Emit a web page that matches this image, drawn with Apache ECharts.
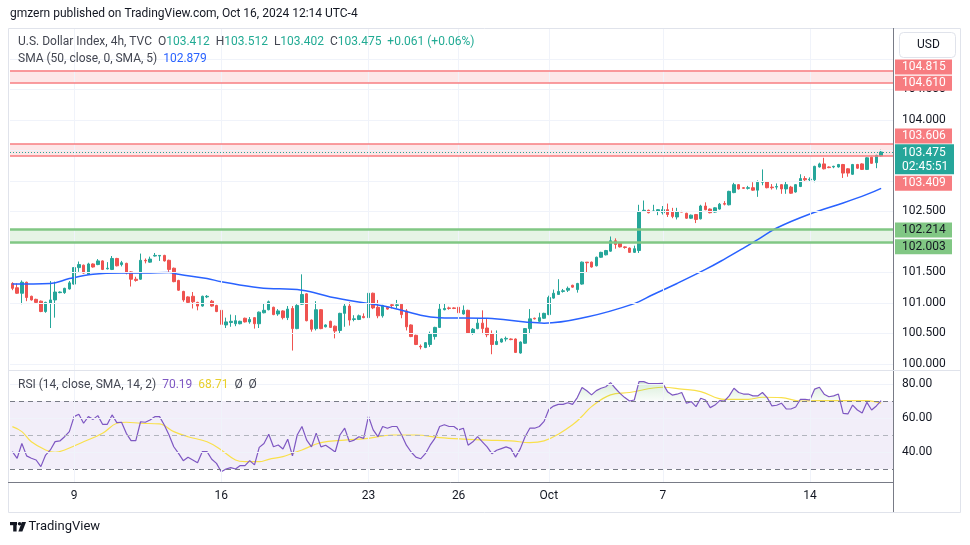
<!DOCTYPE html>
<html><head><meta charset="utf-8">
<script src="https://cdn.jsdelivr.net/npm/echarts@6/dist/echarts.min.js"></script>
<style>html,body{margin:0;padding:0;background:#fff}#c{width:970px;height:545px}</style>
</head><body><div id="c"></div>
<script>
// ---------------- DATA ----------------
const openP = [101.32,101.25,101.16,101.34,101.11,101.06,101.03,100.86,101.00,101.05,
101.17,101.17,101.23,101.31,101.58,101.62,101.47,101.64,101.63,101.69,
101.56,101.55,101.73,101.63,101.65,101.51,101.39,101.39,101.70,101.67,
101.77,101.77,101.78,101.70,101.57,101.37,101.19,101.10,101.11,101.01,
100.95,101.10,101.03,100.96,100.88,100.64,100.68,100.66,100.66,100.75,
100.69,100.76,100.66,100.84,100.89,100.93,100.82,100.87,100.76,100.91,
100.58,100.98,101.15,100.72,100.58,100.89,100.61,100.70,100.62,100.55,
100.83,100.95,100.73,100.73,100.78,100.76,101.16,100.93,100.79,100.93,
100.97,100.96,100.98,100.87,100.64,100.47,100.29,100.27,100.32,100.45,
100.60,100.89,100.92,100.92,100.93,100.82,100.88,100.50,100.58,100.67,
100.59,100.50,100.32,100.36,100.41,100.41,100.41,100.18,100.34,100.58,
100.75,100.70,100.75,100.81,101.08,101.14,101.19,101.21,101.29,101.22,
101.31,101.67,101.67,101.61,101.75,101.79,101.85,102.02,101.98,101.92,
101.90,101.83,101.86,102.51,102.52,102.50,102.50,102.48,102.53,102.49,
102.41,102.50,102.47,102.39,102.45,102.38,102.59,102.54,102.49,102.54,
102.63,102.61,102.81,102.94,102.89,102.88,102.89,102.85,102.98,102.99,
102.90,102.90,102.94,102.87,102.90,102.82,102.91,103.04,103.02,103.02,
103.23,103.28,103.23,103.23,103.23,103.27,103.20,103.11,103.27,103.28,
103.19,103.39,103.30,103.412];
const closeP = [101.24,101.16,101.34,101.09,101.05,101.01,100.86,101.01,101.05,101.18,
101.18,101.24,101.33,101.58,101.63,101.49,101.64,101.59,101.69,101.55,
101.57,101.73,101.61,101.66,101.49,101.39,101.37,101.70,101.69,101.72,
101.78,101.78,101.69,101.55,101.35,101.21,101.05,101.01,101.02,100.95,
101.11,101.11,100.95,100.86,100.65,100.69,100.70,100.71,100.70,100.69,
100.73,100.66,100.85,100.88,101.02,100.81,100.87,100.76,100.90,100.58,
100.96,101.14,100.71,100.57,100.89,100.58,100.64,100.60,100.54,100.83,
100.95,100.72,100.74,100.79,100.76,101.16,100.92,100.79,100.96,100.90,
100.96,100.97,100.81,100.61,100.45,100.32,100.28,100.35,100.49,100.60,
100.90,100.91,100.91,100.91,100.84,100.88,100.51,100.57,100.67,100.58,
100.48,100.32,100.37,100.41,100.42,100.40,100.19,100.36,100.58,100.74,
100.74,100.76,100.83,101.09,101.16,101.19,101.20,101.24,101.26,101.32,
101.67,101.66,101.59,101.75,101.83,101.86,102.02,101.96,101.92,101.91,
101.83,101.89,102.50,102.52,102.48,102.51,102.53,102.53,102.45,102.42,
102.50,102.49,102.39,102.44,102.37,102.59,102.53,102.48,102.56,102.62,
102.62,102.83,102.94,102.87,102.88,102.89,102.85,102.98,102.99,102.89,
102.89,102.91,102.87,102.94,102.80,102.94,103.04,103.02,103.03,103.24,
103.28,103.20,103.22,103.24,103.27,103.13,103.13,103.27,103.21,103.19,
103.38,103.29,103.42,103.475];
const lowP = [101.21,101.15,100.98,101.03,101.04,101.00,100.85,100.84,100.59,100.76,
101.16,101.15,101.22,101.30,101.51,101.48,101.46,101.58,101.62,101.54,
101.55,101.54,101.60,101.60,101.47,101.27,101.35,101.38,101.65,101.66,
101.76,101.69,101.68,101.51,101.34,101.20,101.02,101.00,100.91,100.88,
100.94,101.08,100.94,100.85,100.64,100.59,100.61,100.62,100.65,100.68,
100.66,100.58,100.59,100.83,100.88,100.80,100.79,100.73,100.72,100.22,
100.57,100.97,100.70,100.53,100.55,100.57,100.60,100.59,100.42,100.50,
100.61,100.63,100.70,100.72,100.75,100.75,100.90,100.75,100.76,100.89,
100.91,100.91,100.75,100.55,100.44,100.31,100.24,100.26,100.28,100.40,
100.59,100.88,100.89,100.90,100.83,100.81,100.50,100.48,100.57,100.49,
100.44,100.16,100.31,100.35,100.37,100.39,100.18,100.17,100.33,100.49,
100.73,100.69,100.74,100.80,101.07,101.14,101.17,101.18,101.25,101.17,
101.30,101.50,101.58,101.60,101.74,101.78,101.84,101.89,101.91,101.89,
101.82,101.82,101.82,102.50,102.47,102.50,102.44,102.45,102.41,102.39,
102.37,102.49,102.38,102.38,102.31,102.37,102.52,102.47,102.48,102.53,
102.60,102.60,102.80,102.86,102.87,102.86,102.84,102.74,102.93,102.88,
102.86,102.86,102.79,102.79,102.79,102.81,102.90,102.99,102.99,102.98,
103.22,103.19,103.21,103.21,103.22,103.05,103.07,103.10,103.20,103.18,
103.18,103.28,103.21,103.402];
const highP = [101.34,101.32,101.37,101.35,101.12,101.07,101.04,101.02,101.36,101.35,
101.19,101.25,101.36,101.59,101.68,101.63,101.66,101.65,101.72,101.70,
101.67,101.77,101.74,101.69,101.66,101.52,101.43,101.81,101.73,101.76,
101.82,101.78,101.79,101.71,101.58,101.38,101.20,101.11,101.18,101.02,
101.12,101.13,101.05,100.97,100.89,100.76,100.81,100.80,100.71,100.76,
100.77,100.77,100.86,101.00,101.04,100.94,100.90,100.88,100.95,100.95,
100.98,101.47,101.16,100.73,101.03,100.90,100.65,100.71,100.63,100.84,
101.00,101.01,100.80,100.81,100.83,101.23,101.17,101.05,100.97,100.94,
101.00,101.05,100.99,100.90,100.65,100.48,100.32,100.36,100.53,100.61,
100.99,100.99,100.94,100.93,100.94,100.96,100.89,100.59,100.75,100.88,
100.75,100.55,100.55,100.42,100.45,100.42,100.42,100.37,100.59,100.90,
100.76,100.84,100.84,101.12,101.22,101.39,101.23,101.27,101.30,101.33,
101.68,101.67,101.68,101.76,101.84,101.87,102.09,102.06,101.99,101.93,
101.91,101.94,102.61,102.68,102.53,102.61,102.54,102.59,102.63,102.56,
102.56,102.51,102.48,102.45,102.46,102.61,102.65,102.55,102.57,102.64,
102.67,102.84,102.97,102.95,102.90,102.92,102.98,103.01,103.19,103.00,
102.95,102.96,102.95,102.99,102.92,102.95,103.11,103.08,103.06,103.25,
103.30,103.38,103.24,103.25,103.28,103.28,103.21,103.28,103.28,103.29,
103.39,103.40,103.43,103.512];
// SMA(50) read at points along the curve: bar index / value
const smaIdx = [0,8,12,17,23,28,33,35,41,44,52,61,67,75,79,86,90,100,108,112,121,131,135,140,146,150,154,157,161,168,175,180,183];
const smaVal = [101.31,101.32,101.40,101.47,101.49,101.49,101.50,101.47,101.40,101.35,101.25,101.21,101.10,100.99,100.94,100.80,100.76,100.75,100.69,100.67,100.77,100.99,101.14,101.32,101.55,101.72,101.90,102.04,102.23,102.46,102.64,102.78,102.88];
// RSI(14), one value per bar
const rsiVal = [40.2,36.3,45,37.7,36.3,35.3,31.4,38.2,41.2,46.1,
46.5,49,52,60.8,62.2,56.9,60.8,59.2,61.4,56.3,
56.3,61.8,57.3,57.5,51,46.7,46.7,57.8,57.5,58.8,
60.8,60.8,55.9,50,43.1,39.2,34.9,36.9,35.3,33.7,
40.2,40.2,35.7,33.3,28.4,30,30.8,30,32,32,
34.9,32.4,42.7,45,50.4,43.1,44.1,41.8,47.5,37.7,
50,55,47,43,51,43,44,42,40,50,
54,46,47,49,48,61,53,49,55,54,
55,55,50,44,40,37,36,39,44,48,
55,56,55,55,53,54,44,46,49,46,
43,39,41,42,43,42,37,42,49,54,
54,55,58,65,67,68,68,69,68,72,
78,76,73.6,76.1,77.5,78.4,80.8,77.5,74.5,72,
70,70.6,81.4,81.4,80.3,80.2,80.2,80.4,75.5,73.5,
74,75,68.7,69.6,66.7,71.6,70.6,66.1,67.6,70.2,
70,73,77.5,75,74.1,74.1,73,73,75,72,
67.1,67.5,68.7,65.3,65.3,66.5,71,71,70.6,77,
78.1,74,72.5,73,74.1,62.7,62.4,67.6,64.7,63,
69.2,64.7,67.1,70.19];
// RSI signal (SMA 14) read at points along the curve
const sigIdx = [0,2,4,7,9,11,15,19,22,24,27,31,34,37,41,44,47,49,52,54,57,59,61,65,70,75,80,85,90,95,100,105,109,112,115,118,120,122,126,130,137,141,145,150,155,158,162,166,169,174,180,183];
const sigVal = [54.9,52,46,41.2,39.8,41.2,46,51,56.9,57.5,56.9,56.5,52,49,46,41.2,35.3,34.3,34.3,35.7,37.3,39.2,41.2,45.5,47,48,50,50,48.5,47.6,47,46.6,45.5,46.5,50.5,56,61,66.7,73.6,75,78.1,77,75.5,71,71,72.2,72,70,70.2,70.2,70.2,68.71];
// axis ticks
const xTickIndex = [13,44,75,94,113,137,168];
const xTickLabels = ['9','16','23','26','Oct','7','14'];
const priceGrid = [100,100.5,101,101.5,102,102.5,103,103.5,104,104.5,105];
const priceLabels = [100,100.5,101,101.5,102.5,104,104.5];
const rsiGrid = [80,60,40];
const rsiDashed = [70,50,30];
// horizontal zones / price tags
const zoneRedTop = [104.610, 104.815];
const zoneRedMid = [103.409, 103.606];
const zoneGreen = [102.003, 102.214];
const lastPrice = 103.475;
const countdown = '02:45:51';
const tagPrices = [104.815, 104.610, 103.606, 103.409, 102.214, 102.003];
const tagKinds = ['r','r','r','r','g','g'];

// ---------------- CHART ----------------
const N_CATS = 186;
const xCats = Array.from({length: N_CATS}, (_, i) => 'b' + i);
const FONT = 'Roboto, "Noto Sans", sans-serif';
const UP = '#26a69a', DOWN = '#ef5350';
const candles = openP.map((o, i) => [o, closeP[i], lowP[i], highP[i]]);
const smaData = smaIdx.map((k, j) => [xCats[k], smaVal[j]]);
const sigData = sigIdx.map((k, j) => [xCats[k], sigVal[j]]);
const rsiData = rsiVal.map((v, i) => [xCats[i], v]);

const chart = echarts.init(document.getElementById('c'), null, {renderer: 'canvas'});

const gridLineStyle = {color: '#f0f3fa', width: 1, type: 'solid'};
const vLines = xTickIndex.map(k => ({xAxis: xCats[k], label: {show: false}, lineStyle: gridLineStyle}));
const priceLines = priceGrid.map(v => ({
  yAxis: v, lineStyle: gridLineStyle,
  label: {show: priceLabels.includes(v), position: 'end', distance: 9, formatter: v.toFixed(3),
          color: '#131722', fontSize: 12, fontFamily: FONT}
}));
const redLine = {color: '#f77c80', width: 1.5, type: 'solid'};
const zoneLines = [
  ...zoneRedTop.map(v => ({yAxis: v, lineStyle: redLine, label: {show: false}})),
  ...zoneRedMid.map(v => ({yAxis: v, lineStyle: redLine, label: {show: false}})),
  ...zoneGreen.map(v => ({yAxis: v, lineStyle: {color: '#81c784', width: 2.5, type: 'solid'}, label: {show: false}})),
  {yAxis: lastPrice, lineStyle: {color: UP, width: 1, type: [1, 2]}, label: {show: false}}
];
const rsiLines = [
  ...rsiGrid.map(v => ({yAxis: v, lineStyle: gridLineStyle,
     label: {show: true, position: 'end', distance: 9, formatter: v.toFixed(2), color: '#131722', fontSize: 12, fontFamily: FONT}})),
  ...rsiDashed.map(v => ({yAxis: v, lineStyle: {color: v === 50 ? '#b2b5be' : '#787b86', width: 1, type: [5, 4]}, label: {show: false}})),
  ...xTickIndex.map(k => ({xAxis: xCats[k], label: {show: false}, lineStyle: gridLineStyle}))
];

const option = {
  animation: false,
  backgroundColor: '#ffffff',
  textStyle: {fontFamily: FONT},
  grid: [
    {left: 10, right: 77, top: 28, height: 342},
    {left: 10, right: 77, top: 371, height: 111}
  ],
  xAxis: [
    {type: 'category', gridIndex: 0, data: xCats, boundaryGap: true,
     axisLine: {show: false}, axisTick: {show: false}, axisLabel: {show: false}, splitLine: {show: false}},
    {type: 'category', gridIndex: 1, data: xCats, boundaryGap: true,
     axisLine: {show: false}, axisTick: {show: false}, splitLine: {show: false},
     axisLabel: {show: true, interval: (i) => xTickIndex.includes(i),
       formatter: (v, i) => xTickLabels[xTickIndex.indexOf(i)] || '',
       color: '#131722', fontSize: 12, margin: 8, fontFamily: FONT}}
  ],
  yAxis: [
    {type: 'value', gridIndex: 0, position: 'right', min: 99.9016, max: 105.5082, show: false},
    {type: 'value', gridIndex: 1, position: 'right', min: 22.35, max: 87.65, show: false}
  ],
  series: [
    {name: 'priceBg', type: 'line', xAxisIndex: 0, yAxisIndex: 0, data: [], z: 1, silent: true,
     markArea: {silent: true, data: [
       [{yAxis: zoneRedTop[0], itemStyle: {color: 'rgba(242,54,69,0.12)'}}, {yAxis: zoneRedTop[1]}],
       [{yAxis: zoneRedMid[0], itemStyle: {color: 'rgba(242,54,69,0.12)'}}, {yAxis: zoneRedMid[1]}],
       [{yAxis: zoneGreen[0], itemStyle: {color: 'rgba(76,175,80,0.14)'}}, {yAxis: zoneGreen[1]}]
     ]},
     markLine: {silent: true, symbol: 'none', animation: false, data: [...vLines, ...priceLines, ...zoneLines]}},
    {name: 'DXY', type: 'candlestick', xAxisIndex: 0, yAxisIndex: 0, data: candles, z: 3,
     barWidth: 3,
     itemStyle: {color: UP, color0: DOWN, borderColor: UP, borderColor0: DOWN, borderWidth: 1}},
    {name: 'SMA', type: 'line', xAxisIndex: 0, yAxisIndex: 0, data: smaData, smooth: 0.4,
     symbol: 'none', z: 4, lineStyle: {color: '#2962ff', width: 1.5}},
    {name: 'rsiBg', type: 'line', xAxisIndex: 1, yAxisIndex: 1, data: [], z: 1, silent: true,
     markArea: {silent: true, data: [[{yAxis: 30, itemStyle: {color: 'rgba(126,87,194,0.1)'}}, {yAxis: 70}]]},
     markLine: {silent: true, symbol: 'none', animation: false, data: rsiLines}},
    {id: 'rsi', name: 'RSI', type: 'line', xAxisIndex: 1, yAxisIndex: 1, data: rsiData, symbol: 'none', z: 4,
     lineStyle: {color: '#7e57c2', width: 1.2}},
    {name: 'RSI-MA', type: 'line', xAxisIndex: 1, yAxisIndex: 1, data: sigData, symbol: 'none', smooth: 0.4, z: 3,
     lineStyle: {color: '#f9e04b', width: 1.2}}
  ]
};
chart.setOption(option);

// green fill above the 70 line
const y70 = chart.convertToPixel({yAxisIndex: 1}, 70);
const yTop = chart.convertToPixel({yAxisIndex: 1}, 87.65);
chart.setOption({series: [{id: 'rsi', areaStyle: {origin: 'start', color: {
  type: 'linear', x: 0, y: yTop, x2: 0, y2: y70, global: true,
  colorStops: [{offset: 0, color: 'rgba(76,175,80,0.45)'}, {offset: 0.97, color: 'rgba(76,175,80,0.06)'}, {offset: 1, color: 'rgba(76,175,80,0)'}]
}}}]});

// ---------------- decorations / tags ----------------
const py = v => chart.convertToPixel({yAxisIndex: 0}, v);
const tagShift = [-3.3, 0.5, -8, 27.3, 1, 5];
const g = [];
const F12 = '12px ' + FONT;
g.push({type: 'rect', z: 50, shape: {x: 8.5, y: 28.5, width: 952, height: 484}, style: {fill: 'none', stroke: '#e0e3eb', lineWidth: 1}});
g.push({type: 'line', z: 50, shape: {x1: 893.5, y1: 28, x2: 893.5, y2: 512}, style: {stroke: '#787b86', lineWidth: 1}});
g.push({type: 'line', z: 50, shape: {x1: 8, y1: 482.5, x2: 893, y2: 482.5}, style: {stroke: '#787b86', lineWidth: 1}});
g.push({type: 'line', z: 50, shape: {x1: 8, y1: 370.5, x2: 960, y2: 370.5}, style: {stroke: '#e0e3eb', lineWidth: 1}});
g.push({type: 'text', z: 50, x: 10, y: 14, style: {text: 'gmzern published on TradingView.com, Oct 16, 2024 12:14 UTC-4', fill: '#131722', font: F12, verticalAlign: 'middle'}});
// USD box
g.push({type: 'rect', z: 50, shape: {x: 899.5, y: 32.5, width: 56, height: 25, r: 4}, style: {fill: '#fff', stroke: '#e0e3eb'}});
g.push({type: 'text', z: 51, x: 917, y: 45, style: {text: 'USD', fill: '#131722', font: F12, verticalAlign: 'middle'}});
// legends
const teal = '#22ab94';
g.push({type: 'text', z: 50, x: 18, y: 42, style: {
  text: '{a|U.S. Dollar Index, 4h, TVC}  {a|O}{v|103.412}  {a|H}{v|103.512}  {a|L}{v|103.402}  {a|C}{v|103.475}  {v|+0.061 (+0.06%)}',
  verticalAlign: 'middle', font: F12,
  rich: {a: {fill: '#434651', font: F12}, v: {fill: teal, font: F12}}}});
g.push({type: 'text', z: 50, x: 18, y: 59, style: {
  text: '{a|SMA (50, close, 0, SMA, 5)}  {b|102.879}', verticalAlign: 'middle', font: F12,
  rich: {a: {fill: '#434651', font: F12}, b: {fill: '#2962ff', font: F12}}}});
g.push({type: 'text', z: 50, x: 18, y: 385, style: {
  text: '{a|RSI (14, close, SMA, 14, 2)}  {p|70.19}  {y|68.71}  {a|Ø}  {a|Ø}', verticalAlign: 'middle', font: F12,
  rich: {a: {fill: '#434651', font: F12}, p: {fill: '#7e57c2', font: F12}, y: {fill: '#e8cf2c', font: F12}}}});
// price tags
tagPrices.forEach((v, i) => {
  const cy = py(v) + tagShift[i];
  const red = tagKinds[i] === 'r';
  g.push({type: 'rect', z: 60, shape: {x: 895, y: cy - 7.5, width: 57, height: 15}, style: {fill: red ? '#f77c80' : '#81c784'}});
  g.push({type: 'text', z: 61, x: 902, y: cy, style: {text: v.toFixed(3), fill: red ? '#ffffff' : '#131722', font: F12, verticalAlign: 'middle'}});
});
const ly = py(lastPrice);
g.push({type: 'rect', z: 62, shape: {x: 895, y: ly - 7.7, width: 59, height: 30}, style: {fill: UP}});
g.push({type: 'text', z: 63, x: 902, y: ly + 1.3, style: {text: lastPrice.toFixed(3), fill: '#fff', font: F12, verticalAlign: 'middle'}});
g.push({type: 'text', z: 63, x: 902, y: ly + 14.7, style: {text: countdown, fill: '#fff', font: F12, verticalAlign: 'middle'}});
// footer logo
g.push({type: 'rect', z: 50, shape: {x: 10, y: 522, width: 7, height: 3.2}, style: {fill: '#131722'}});
g.push({type: 'rect', z: 50, shape: {x: 13.2, y: 522, width: 3.4, height: 9.5}, style: {fill: '#131722'}});
g.push({type: 'circle', z: 50, shape: {cx: 19.6, cy: 523.7, r: 1.8}, style: {fill: '#131722'}});
g.push({type: 'polygon', z: 50, shape: {points: [[21.8, 522], [26, 522], [22.4, 531.5], [18.4, 531.5]]}, style: {fill: '#131722'}});
g.push({type: 'text', z: 50, x: 28.5, y: 527, style: {text: 'TradingView', fill: '#131722', font: '13px ' + FONT, verticalAlign: 'middle'}});

chart.setOption({graphic: g});
</script>
</body></html>
